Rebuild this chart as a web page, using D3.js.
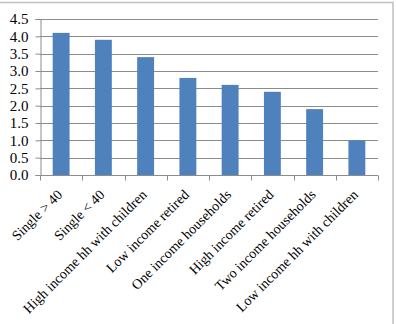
<!DOCTYPE html>
<html>
<head>
<meta charset="utf-8">
<script src="https://cdn.jsdelivr.net/npm/d3@7"></script>
<style>
  body { margin: 0; background: #fff; }
  svg { display: block; }
</style>
</head>
<body>
<div id="chart"></div>
<script>
// Chart data
const categories = ['Single > 40', 'Single < 40', 'High income hh with children', 'Low income retired',
    'One income households', 'High income retired', 'Two income households', 'Low income hh with children'];
const values = [4.1, 3.9, 3.4, 2.8, 2.6, 2.4, 1.9, 1.0];
const yTicks = [0, 0.5, 1, 1.5, 2, 2.5, 3, 3.5, 4, 4.5];

const width = 396;
const height = 324;
const margin = { left: 40, right: 18, top: 19, bottom: 149 };

const svg = d3.select('#chart')
    .append('svg')
    .attr('width', width)
    .attr('height', height);

// Outer frame (only top and right edges show)
svg.append('rect')
    .attr('x', -2)
    .attr('y', 2.5)
    .attr('width', 395)
    .attr('height', 330)
    .attr('fill', 'none')
    .attr('stroke', '#bfbfbf')
    .attr('stroke-width', 1.5);

const x = d3.scaleBand()
    .domain(categories)
    .range([margin.left, width - margin.right]);

const y = d3.scaleLinear()
    .domain([0, 4.5])
    .range([height - margin.bottom, margin.top]);

// Gridlines
svg.append('g')
    .selectAll('line')
    .data(yTicks.slice(1))
    .join('line')
    .attr('x1', margin.left)
    .attr('x2', width - margin.right)
    .attr('y1', d => Math.round(y(d)) + 0.5)
    .attr('y2', d => Math.round(y(d)) + 0.5)
    .attr('stroke', '#8c8c8c')
    .attr('stroke-width', 1);

// Bars
const barW = x.bandwidth() * 0.4;
svg.append('g')
    .selectAll('rect')
    .data(values)
    .join('rect')
    .attr('x', (d, i) => x(categories[i]) + (x.bandwidth() - barW) / 2)
    .attr('y', d => y(d))
    .attr('width', barW)
    .attr('height', d => y(0) - y(d))
    .attr('fill', '#4f81bd');

// Y axis
const yAxis = svg.append('g')
    .attr('transform', `translate(${margin.left + 0.5},0)`)
    .call(d3.axisLeft(y).tickValues(yTicks).tickFormat(d3.format('.1f')).tickSize(5).tickPadding(7));

// X axis with ticks at category boundaries
const xAxis = svg.append('g')
    .attr('transform', `translate(0,${Math.round(y(0)) + 0.5})`);
xAxis.append('line')
    .attr('x1', margin.left)
    .attr('x2', width - margin.right)
    .attr('stroke', '#8c8c8c');
xAxis.selectAll('line.tick')
    .data(d3.range(categories.length + 1))
    .join('line')
    .attr('class', 'tick')
    .attr('x1', i => Math.round(margin.left + i * x.step()) + 0.5)
    .attr('x2', i => Math.round(margin.left + i * x.step()) + 0.5)
    .attr('y1', 0)
    .attr('y2', 5)
    .attr('stroke', '#8c8c8c');

xAxis.selectAll('text')
    .data(categories)
    .join('text')
    .attr('transform', d => `translate(${x(d) + x.bandwidth() / 2 + 2},${20}) rotate(-45)`)
    .attr('text-anchor', 'end')
    .attr('font-family', '"Liberation Serif", "Times New Roman", serif')
    .attr('font-size', 14)
    .attr('fill', '#000')
    .text(d => d);

yAxis.select('.domain').attr('stroke', '#8c8c8c');
yAxis.selectAll('.tick line').attr('stroke', '#8c8c8c');
yAxis.selectAll('.tick text')
    .attr('font-family', '"Liberation Serif", "Times New Roman", serif')
    .attr('font-size', 15)
    .attr('fill', '#000');
</script>
</body>
</html>
